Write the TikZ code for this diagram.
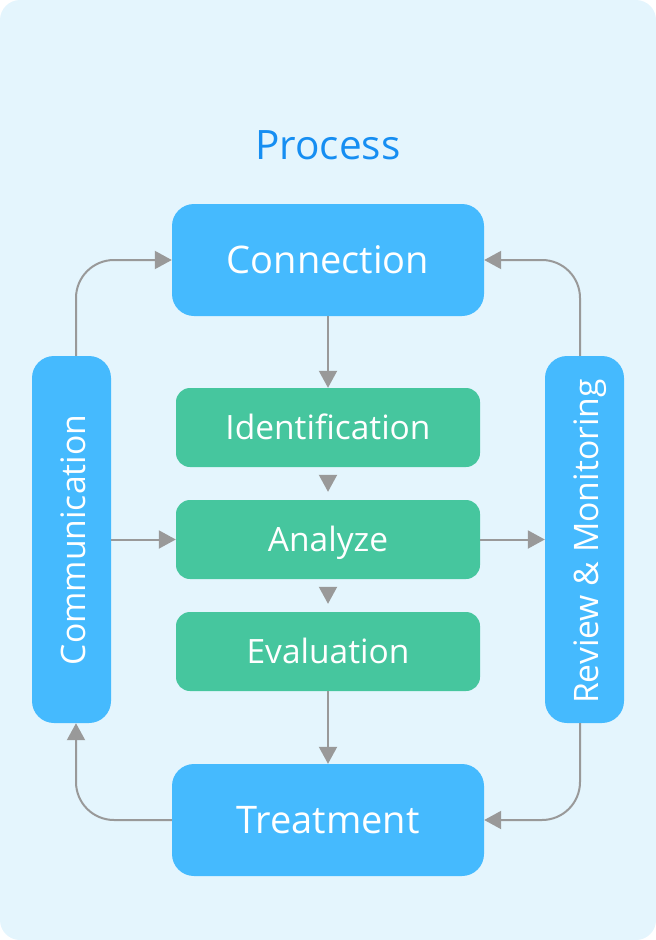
\documentclass[tikz,border=0pt]{standalone}
\usepackage{fontspec}
\setmainfont{Open Sans}
\usetikzlibrary{arrows.meta}
\definecolor{bgc}{HTML}{E4F5FD}
\definecolor{bluebox}{HTML}{45BAFE}
\definecolor{greenbox}{HTML}{46C69E}
\definecolor{titleblue}{HTML}{168EF2}
\definecolor{arrowgray}{HTML}{999999}
\tikzset{
  bigbox/.style={text height=27pt, text depth=0pt, inner sep=0pt, fill=bluebox, draw=none, rounded corners=22pt, minimum width=312pt, minimum height=112pt, text=white, font=\fontsize{38}{42}\selectfont},
  greenstep/.style={text height=24pt, text depth=0pt, inner sep=0pt, fill=greenbox, draw=none, rounded corners=14pt, minimum width=304pt, minimum height=79pt, text=white, font=\fontsize{33.5}{36}\selectfont},
  sidebox/.style={fill=bluebox, draw=none, rounded corners=22pt, minimum width=79pt, minimum height=367pt, inner sep=0pt},
  sidetext/.style={text height=24pt, text depth=0pt, inner sep=0pt, rotate=90, text=white, font=\fontsize{33.7}{36}\selectfont},
  flow/.style={draw=arrowgray, line width=2pt, -{Triangle[length=17pt,width=18pt]}},
  elbow/.style={flow, rounded corners=38pt},
}
\begin{document}
\begin{tikzpicture}[x=1pt, y=-1pt]
\useasboundingbox (0,0) rectangle (656,940);
\fill[bgc, rounded corners=20pt] (0,0) rectangle (656,940);
\node[text height=29pt, text depth=0pt, inner sep=0pt, text=titleblue, font=\fontsize{40.5}{44}\selectfont] (title) at (328,145) {Process};
\node[bigbox] (conn) at (328,260) {Connection};
\node[greenstep] (ident) at (328,427.5) {Identification};
\node[greenstep] (anal) at (328,539.5) {Analyze};
\node[greenstep] (eval) at (328,651.5) {Evaluation};
\node[bigbox] (treat) at (328,820) {Treatment};
\node[sidebox] (comm) at (71.5,539.5) {};
\node[sidebox] (rev) at (584.5,539.5) {};
\node[sidetext] (commtext) at (73,540) {Communication};
\node[sidetext] (revtext) at (586,541.5) {Review \& Monitoring};
\draw[flow] (conn.south) -- (ident.north);
\draw[flow, shorten <=8pt, shorten >=8pt] (ident.south) -- (anal.north);
\draw[flow, shorten <=8pt, shorten >=8pt] (anal.south) -- (eval.north);
\draw[flow] (eval.south) -- (treat.north);
\draw[flow] (comm.east |- anal.west) -- (anal.west);
\draw[flow] (anal.east) -- (rev.west |- anal.east);
\draw[elbow] ([xshift=4.5pt]comm.north) |- (conn.west);
\draw[elbow] ([xshift=-4.5pt]rev.north) |- (conn.east);
\draw[elbow] (treat.west) -| ([xshift=4.5pt]comm.south);
\draw[elbow] ([xshift=-4.5pt]rev.south) |- (treat.east);
\end{tikzpicture}
\end{document}
